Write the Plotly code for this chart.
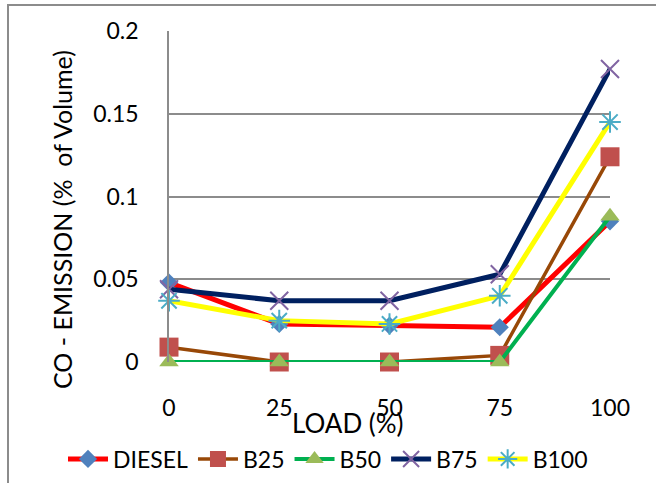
import plotly.graph_objects as go

# Engine load (%) and CO emission (% of volume) per fuel blend
load = [0, 25, 50, 75, 100]
load_labels = ["0", "25", "50", "75", "100"]
diesel = [0.048, 0.023, 0.022, 0.021, 0.085]
b25 = [0.009, 0.0, 0.0, 0.004, 0.124]
b50 = [0.0, 0.0, 0.0, 0.0, 0.088]
b75 = [0.044, 0.037, 0.037, 0.053, 0.177]
b100 = [0.037, 0.025, 0.023, 0.040, 0.145]
y_ticks = [0, 0.05, 0.1, 0.15, 0.2]
y_tick_labels = ["0", "0.05", "0.1", "0.15", "0.2"]

W, H = 656, 483
FONT = "Lato, 'Liberation Sans', sans-serif"

# plot area in pixels
PX0, PX1 = 169, 610
PY0, PY1 = 31, 362

series = [
    dict(name="DIESEL", y=diesel, line=dict(color="#ff0000", width=5),
         marker=dict(symbol="diamond", size=14, color="#4f81bd")),
    dict(name="B25", y=b25, line=dict(color="#984807", width=3.5),
         marker=dict(symbol="square", size=19, color="#c0504d")),
    dict(name="B50", y=b50, line=dict(color="#00b050", width=4),
         marker=dict(symbol="triangle-up", size=17, color="#9bbb59")),
    dict(name="B75", y=b75, line=dict(color="#002060", width=5),
         marker=dict(symbol="x-thin-open", size=18, color="#8064a2",
                     line=dict(color="#8064a2", width=2))),
    dict(name="B100", y=b100, line=dict(color="#ffff00", width=5),
         marker=dict(symbol="asterisk-open", size=18, color="#4bacc6",
                     line=dict(color="#4bacc6", width=2))),
]

fig = go.Figure()
for s in series:
    fig.add_trace(go.Scatter(
        x=load, y=s["y"], name=s["name"], mode="lines+markers",
        line=s["line"], marker=s["marker"], cliponaxis=False,
    ))

fig.update_layout(
    width=W, height=H,
    margin=dict(l=0, r=0, t=0, b=0, autoexpand=False),
    paper_bgcolor="white", plot_bgcolor="white",
    font=dict(family=FONT, size=22, color="black"),
    xaxis=dict(
        domain=[PX0 / W, PX1 / W], range=[0, 100],
        tickvals=load, ticktext=load_labels,
        showgrid=False, zeroline=False, showline=False,
        ticks="", ticklabelstandoff=30, automargin=False,
        tickfont=dict(family=FONT, size=23),
    ),
    yaxis=dict(
        domain=[1 - PY1 / H, 1 - PY0 / H], range=[0, 0.2],
        tickvals=y_ticks, ticktext=y_tick_labels,
        showgrid=True, gridcolor="#8c8c8c", gridwidth=1.5,
        zeroline=False, showline=True, linecolor="#8c8c8c", linewidth=1.5,
        ticks="", ticklabelstandoff=24, automargin=False,
        tickfont=dict(family=FONT, size=23),
    ),
    legend=dict(
        orientation="h", x=0.5, xanchor="center",
        y=1 - 459 / H, yanchor="middle",
        font=dict(family=FONT, size=23),
        itemwidth=40, tracegroupgap=0,
        bgcolor="rgba(0,0,0,0)",
    ),
    showlegend=True,
)

# axis titles
fig.add_annotation(
    text="LOAD (%)", xref="paper", yref="paper",
    x=348 / W, y=1 - 423 / H, xanchor="center", yanchor="middle",
    showarrow=False, font=dict(family=FONT, size=26),
)
fig.add_annotation(
    text="CO - EMISSION (%\u00a0\u00a0of Volume)", xref="paper", yref="paper",
    x=62 / W, y=1 - 220 / H, xanchor="center", yanchor="middle",
    textangle=-90, showarrow=False, font=dict(family=FONT, size=25),
)

# chart frame
fig.add_shape(
    type="rect", xref="paper", yref="paper",
    x0=8 / W, x1=1.05, y0=-0.05, y1=1 - 5 / H,
    line=dict(color="#8c8c8c", width=2), fillcolor="rgba(0,0,0,0)",
    layer="below",
)

fig.write_html("out.html")
